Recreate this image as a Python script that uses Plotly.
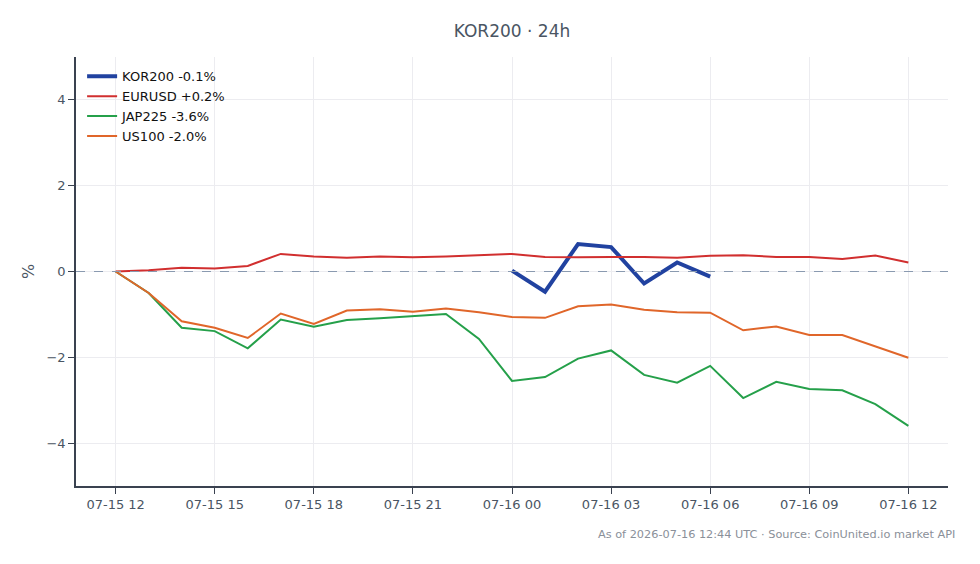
import plotly.graph_objects as go
import pandas as pd

times = pd.date_range("2026-07-15 12:00", "2026-07-16 12:00", freq="h")

eurusd = [0.0, 0.03, 0.09, 0.07, 0.13, 0.41, 0.35, 0.32, 0.35, 0.33, 0.35, 0.38, 0.41,
          0.34, 0.33, 0.34, 0.34, 0.32, 0.37, 0.38, 0.34, 0.34, 0.29, 0.37, 0.21]
jap225 = [0.0, -0.5, -1.31, -1.39, -1.79, -1.12, -1.29, -1.13, -1.09, -1.04, -0.99, -1.57, -2.55,
          -2.46, -2.03, -1.84, -2.41, -2.59, -2.2, -2.95, -2.57, -2.74, -2.77, -3.09, -3.6]
us100 = [0.0, -0.5, -1.16, -1.31, -1.55, -0.98, -1.22, -0.91, -0.88, -0.94, -0.86, -0.95, -1.06,
         -1.08, -0.81, -0.77, -0.89, -0.95, -0.96, -1.37, -1.28, -1.48, -1.48, -1.75, -2.01]
kor200_times = times[12:19]
kor200 = [0.02, -0.47, 0.64, 0.57, -0.28, 0.21, -0.12]

tickvals = pd.date_range("2026-07-15 12:00", "2026-07-16 12:00", freq="3h")
ticktext = [t.strftime("%m-%d %H") for t in tickvals]

fig = go.Figure()
fig.add_trace(go.Scatter(x=kor200_times, y=kor200, mode="lines", name="KOR200 -0.1%",
                         line=dict(color="#2142a0", width=4)))
fig.add_trace(go.Scatter(x=times, y=eurusd, mode="lines", name="EURUSD +0.2%",
                         line=dict(color="#d12f2f", width=2)))
fig.add_trace(go.Scatter(x=times, y=jap225, mode="lines", name="JAP225 -3.6%",
                         line=dict(color="#25a04a", width=2)))
fig.add_trace(go.Scatter(x=times, y=us100, mode="lines", name="US100 -2.0%",
                         line=dict(color="#e0662a", width=2)))

fig.add_hline(y=0, line=dict(color="#8a9ab0", width=1, dash="dash"))

fig.update_layout(
    width=980, height=564,
    margin=dict(l=76, r=32, t=57, b=78),
    paper_bgcolor="white", plot_bgcolor="white",
    font=dict(family="DejaVu Sans", size=13, color="#4a5563"),
    title=dict(text="KOR200 · 24h", x=0.5, xref="paper", xanchor="center", y=0.945, yanchor="middle",
               font=dict(size=17, color="#4a5563")),
    showlegend=True,
    legend=dict(x=0.007, y=0.99, xanchor="left", yanchor="top", bgcolor="rgba(255,255,255,0)",
                font=dict(size=13, color="#111111"), itemwidth=30, tracegroupgap=2),
    xaxis=dict(range=[pd.Timestamp("2026-07-15 10:48"), pd.Timestamp("2026-07-16 13:12")],
               tickvals=tickvals, ticktext=ticktext, showgrid=True, gridcolor="#ececf0",
               showline=True, linecolor="#3a4250", linewidth=1.5, ticks="outside",
               ticklen=6, tickcolor="#3a4250", zeroline=False, tickfont=dict(size=13)),
    yaxis=dict(range=[-5, 5], tickvals=[-4, -2, 0, 2, 4], showgrid=True, gridcolor="#ececf0",
               showline=True, linecolor="#3a4250", linewidth=1.5, ticks="outside",
               ticklen=6, tickcolor="#3a4250", zeroline=False,
               title=dict(text="%", standoff=8), tickfont=dict(size=13)),
    annotations=[dict(text="As of 2026-07-16 12:44 UTC · Source: CoinUnited.io market API",
                      xref="paper", yref="paper", x=1.01, y=-0.093, xanchor="right", yanchor="top",
                      showarrow=False, font=dict(size=11.3, color="#8a9099"))],
)

fig.write_html("out.html")
